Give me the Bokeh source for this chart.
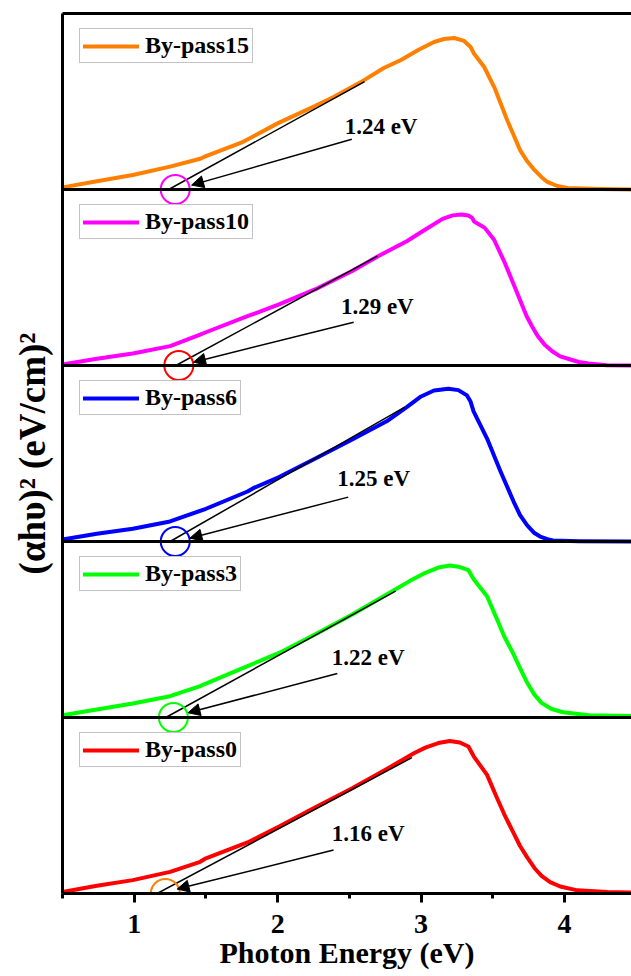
import math

from bokeh.plotting import figure
from bokeh.layouts import row
from bokeh.models import (Range1d, Span, Arrow, NormalHead, Legend,
                          LegendItem, LinearAxis, FixedTicker)
from bokeh.core.properties import value
from bokeh.embed import file_html
from bokeh.resources import INLINE

# ---- data: Tauc plots (normalised (αhυ)², one panel per sample) ----
samples = ["By-pass0", "By-pass3", "By-pass6", "By-pass10", "By-pass15"]
line_colors = ["#FF0000", "#00FF00", "#0000FF", "#FF00FF", "#FF8000"]
gap_ev = [1.16, 1.22, 1.25, 1.29, 1.24]
marker_colors = ["#FF8000", "#00FF00", "#0000FF", "#FF0000", "#FF00FF"]

energy_bp0 = [0.5, 0.74, 0.99, 1.25, 1.46, 1.50, 1.79, 2.01, 2.26, 2.52, 2.77, 2.95,
              3.03, 3.12, 3.20, 3.27, 3.33, 3.368, 3.46, 3.53, 3.58, 3.64, 3.69, 3.74,
              3.79, 3.84, 3.90, 3.97, 4.09, 4.30, 4.47]
tauc_bp0 = [0.009, 0.044, 0.076, 0.123, 0.18, 0.20, 0.29, 0.38, 0.488, 0.598, 0.712,
            0.797, 0.829, 0.855, 0.867, 0.858, 0.835, 0.778, 0.674, 0.541, 0.45,
            0.351, 0.27, 0.205, 0.145, 0.10, 0.065, 0.040, 0.018, 0.008, 0.006]

energy_bp3 = [0.5, 0.74, 0.99, 1.25, 1.46, 1.50, 1.79, 2.01, 2.26, 2.52, 2.82, 2.92,
              3.03, 3.12, 3.20, 3.27, 3.33, 3.368, 3.46, 3.53, 3.58, 3.64, 3.69, 3.74,
              3.79, 3.84, 3.91, 3.99, 4.17, 4.47]
tauc_bp3 = [0.013, 0.045, 0.08, 0.121, 0.178, 0.193, 0.292, 0.367, 0.472, 0.585,
            0.727, 0.775, 0.822, 0.852, 0.864, 0.855, 0.837, 0.784, 0.689, 0.557,
            0.46, 0.367, 0.28, 0.197, 0.13, 0.083, 0.048, 0.03, 0.013, 0.008]

energy_bp6 = [0.5, 0.74, 0.99, 1.25, 1.50, 1.79, 1.83, 2.01, 2.26, 2.52, 2.77, 2.90,
              3.00, 3.09, 3.19, 3.26, 3.32, 3.345, 3.366, 3.46, 3.554, 3.645, 3.69,
              3.74, 3.79, 3.83, 3.88, 3.92, 4.10, 4.47]
tauc_bp6 = [0.011, 0.044, 0.072, 0.114, 0.186, 0.284, 0.303, 0.366, 0.47, 0.58,
            0.688, 0.763, 0.824, 0.858, 0.868, 0.86, 0.83, 0.795, 0.739, 0.585,
            0.398, 0.227, 0.15, 0.091, 0.048, 0.028, 0.013, 0.006, 0.002, 0.0]

energy_bp10 = [0.5, 0.74, 0.99, 1.25, 1.46, 1.50, 1.79, 2.01, 2.26, 2.52, 2.70, 2.90,
               3.03, 3.15, 3.22, 3.28, 3.33, 3.356, 3.37, 3.444, 3.508, 3.584, 3.66,
               3.736, 3.775, 3.813, 3.86, 3.914, 3.97, 4.041, 4.10, 4.168, 4.295, 4.47]
tauc_bp10 = [0.006, 0.038, 0.068, 0.11, 0.176, 0.189, 0.28, 0.347, 0.432, 0.537,
             0.621, 0.706, 0.773, 0.833, 0.853, 0.858, 0.852, 0.839, 0.818, 0.782,
             0.716, 0.583, 0.432, 0.28, 0.22, 0.167, 0.12, 0.081, 0.052, 0.034,
             0.02, 0.011, 0.002, 0.0]

energy_bp15 = [0.5, 0.74, 0.99, 1.25, 1.46, 1.50, 1.76, 2.01, 2.26, 2.39, 2.60, 2.74,
               2.86, 2.98, 3.09, 3.16, 3.23, 3.30, 3.345, 3.366, 3.44, 3.51, 3.60,
               3.69, 3.74, 3.79, 3.84, 3.88, 3.95, 4.02, 4.25, 4.47]
tauc_bp15 = [0.012, 0.047, 0.082, 0.13, 0.175, 0.19, 0.271, 0.38, 0.474, 0.526,
             0.62, 0.69, 0.736, 0.793, 0.838, 0.855, 0.861, 0.844, 0.81, 0.776,
             0.696, 0.582, 0.395, 0.224, 0.16, 0.111, 0.07, 0.043, 0.02, 0.009,
             0.003, 0.0]

energies = [energy_bp0, energy_bp3, energy_bp6, energy_bp10, energy_bp15]
taucs = [tauc_bp0, tauc_bp3, tauc_bp6, tauc_bp10, tauc_bp15]

# upper end point of each linear fit (the lower end sits on the gap value)
fit_end_energy = [2.936, 2.822, 2.886, 2.695, 2.606]
fit_end_tauc = [0.772, 0.718, 0.763, 0.621, 0.613]

x_ticks = [1, 2, 3, 4]
x_minor_ticks = [0.5, 1.5, 2.5, 3.5, 4.5]

y_title = "(αhυ)² (eV/cm)²"

# ---- annotation placement within each panel ----
label_xy = [(2.378, 0.342), (2.378, 0.339), (2.416, 0.356), (2.441, 0.337), (2.467, 0.36)]
arrow_tail = [(2.39, 0.247), (2.416, 0.25), (2.492, 0.252), (2.53, 0.246), (2.517, 0.285)]
arrow_tip = [(1.299, 0.025), (1.375, 0.027), (1.388, 0.019), (1.413, 0.019), (1.40, 0.025)]
marker_x = [1.217, 1.273, 1.286, 1.311, 1.286]
legend_loc = [(17, 126), (17, 302), (17, 478), (17, 654), (17, 830)]

SERIF = "Liberation Serif"

# narrow strip on the left holding the vertical axis title
side = figure(width=60, height=976, x_range=Range1d(0, 60), y_range=Range1d(0, 976),
              output_backend="svg", toolbar_location=None, min_border=0,
              x_axis_type=None, y_axis_type=None, outline_line_color=None)
side.xgrid.visible = False
side.ygrid.visible = False
side.text(x=[32], y=[488], text=[y_title], angle=math.pi / 2,
          text_font=value(SERIF), text_font_style="bold", text_font_size="37px",
          text_align="center", text_baseline="middle", text_color="black")

p = figure(width=571, height=976, x_range=Range1d(0.5, 4.467), y_range=Range1d(0, 5),
           output_backend="svg", toolbar_location=None,
           min_border_left=2, min_border_right=0, min_border_top=13,
           min_border_bottom=83, outline_line_color=None)
p.xgrid.visible = False
p.ygrid.visible = False
p.background_fill_color = "white"

# bottom axis
p.xaxis.ticker = FixedTicker(ticks=x_ticks, minor_ticks=x_minor_ticks)
p.xaxis.axis_line_width = 3
p.xaxis.major_tick_line_width = 3
p.xaxis.minor_tick_line_width = 3
p.xaxis.major_tick_out = 9
p.xaxis.major_tick_in = 0
p.xaxis.minor_tick_out = 5
p.xaxis.minor_tick_in = 0
p.xaxis.major_label_text_font = SERIF
p.xaxis.major_label_text_font_style = "bold"
p.xaxis.major_label_text_font_size = "28px"
p.xaxis.major_label_text_color = "black"
p.xaxis.major_label_standoff = 12
p.xaxis.axis_label = "Photon Energy (eV)"
p.xaxis.axis_label_text_font = SERIF
p.xaxis.axis_label_text_font_style = "bold"
p.xaxis.axis_label_text_font_size = "30px"
p.xaxis.axis_label_text_color = "black"
p.xaxis.axis_label_standoff = 0

# left axis: line only
p.yaxis.ticker = FixedTicker(ticks=[])
p.yaxis.axis_line_width = 3
p.yaxis.major_tick_out = 0
p.yaxis.minor_tick_out = 0
p.yaxis.major_label_text_font_size = "0px"
p.yaxis.major_label_standoff = 0
p.yaxis.axis_label_standoff = 0

# top border
top = LinearAxis(ticker=FixedTicker(ticks=[]), axis_line_width=3, major_tick_out=0,
                 minor_tick_out=0, major_label_text_font_size="0px")
p.add_layout(top, "above")

# panel dividers
for k in range(1, 5):
    p.add_layout(Span(location=k, dimension="width", line_color="black", line_width=3))

for k in range(5):
    r = p.line(energies[k], [v + k for v in taucs[k]], line_color=line_colors[k],
               line_width=4, line_join="round", line_cap="round")

    # linear extrapolation to the energy axis
    p.line([gap_ev[k], fit_end_energy[k]], [k, fit_end_tauc[k] + k],
           line_color="black", line_width=1.5)

    p.scatter([marker_x[k]], [k], marker="circle", size=29, fill_color=None,
              line_color=marker_colors[k], line_width=2)

    p.add_layout(Arrow(end=NormalHead(size=12, fill_color="black", line_color="black"),
                       x_start=arrow_tail[k][0], y_start=arrow_tail[k][1] + k,
                       x_end=arrow_tip[k][0], y_end=arrow_tip[k][1] + k,
                       line_color="black", line_width=1.5))

    p.text(x=[label_xy[k][0]], y=[label_xy[k][1] + k], text=[f"{gap_ev[k]:.2f} eV"],
           text_font=value(SERIF), text_font_style="bold", text_font_size="23px",
           text_baseline="middle", text_align="left", text_color="black")

    legend = Legend(items=[LegendItem(label=samples[k], renderers=[r])],
                    location=legend_loc[k], label_text_font=SERIF,
                    label_text_font_style="bold", label_text_font_size="24px",
                    label_text_color="black", glyph_width=56, glyph_height=20,
                    label_height=20, label_standoff=6, padding=3, spacing=0, margin=0,
                    border_line_color="#888888", border_line_width=1,
                    background_fill_color="white", background_fill_alpha=1)
    p.add_layout(legend)

layout = row(side, p, spacing=0)
open("out.html", "w").write(file_html(layout, INLINE))
